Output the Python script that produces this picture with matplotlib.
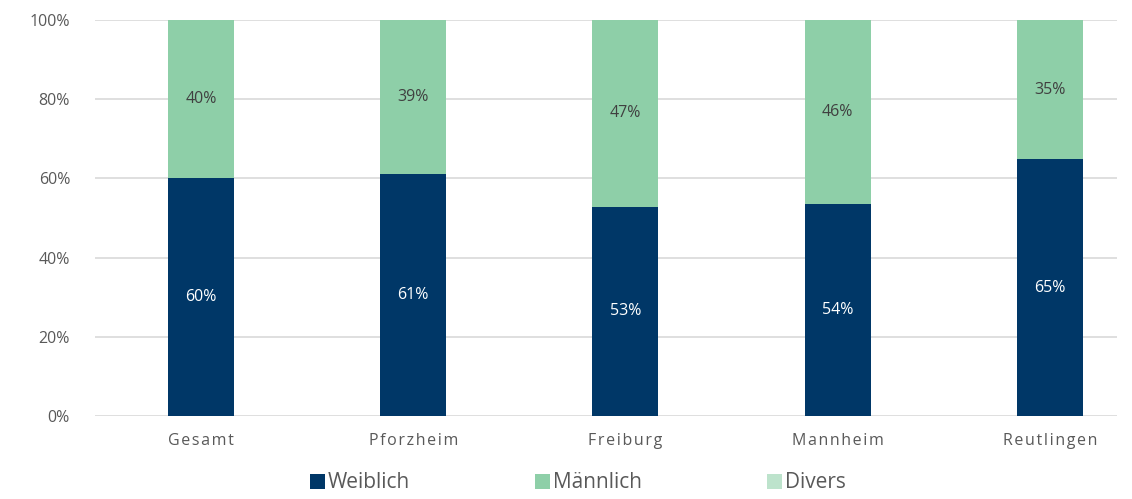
import numpy as np
import matplotlib.pyplot as plt

plt.rcParams['font.family'] = ['Open Sans', 'DejaVu Sans']

# data (percent)
standorte = ["Gesamt", "Pforzheim", "Freiburg", "Mannheim", "Reutlingen"]
weiblich = [60.2, 61.0, 52.8, 53.6, 64.8]
maennlich = [39.8, 39.0, 47.2, 46.4, 35.2]
divers = [0.0, 0.0, 0.0, 0.0, 0.0]

c_w = "#003767"
c_m = "#8ecfa8"
c_d = "#bde3cc"

fig = plt.figure(figsize=(11.32, 4.99), dpi=100)
ax = fig.add_axes([95 / 1132, 1 - 416 / 499, (1117 - 95) / 1132, 396 / 499])

x = np.arange(len(standorte))
w = 0.311
b1 = ax.bar(x, weiblich, w, color=c_w, label="Weiblich", zorder=3)
b2 = ax.bar(x, maennlich, w, bottom=weiblich, color=c_m, label="Männlich", zorder=3)
bottom3 = np.array(weiblich) + np.array(maennlich)
b3 = ax.bar(x, divers, w, bottom=bottom3, color=c_d, label="Divers", zorder=3)

# value labels in the middle of each segment
for i in range(len(standorte)):
    ax.text(x[i], weiblich[i] / 2, f"{weiblich[i]:.0f}%", ha="center", va="center",
            color="white", fontsize=11.5, zorder=4)
    ax.text(x[i], weiblich[i] + maennlich[i] / 2, f"{maennlich[i]:.0f}%", ha="center",
            va="center", color="#404040", fontsize=11.5, zorder=4)

ax.set_ylim(0, 100)
ax.set_xlim(-0.4994, 4.316)
ax.set_yticks(np.arange(0, 101, 20))
ax.set_yticklabels([f"{v}%" for v in range(0, 101, 20)])
ax.set_xticks(x)
# category labels are letter-spaced in the original
ax.set_xticklabels(["\u200a".join(s) for s in standorte])
ax.tick_params(axis="both", length=0, colors="#595959", labelsize=11.5)
ax.tick_params(axis="x", pad=12)
ax.tick_params(axis="y", pad=18)
ax.grid(axis="y", color="#d9d9d9", linewidth=1.2, zorder=0)
for s in ax.spines.values():
    s.set_visible(False)

fig.legend(handles=[b1, b2, b3], loc="center", bbox_to_anchor=(578 / 1132, 1 - 483 / 499),
           ncol=3, frameon=False, fontsize=15, handlelength=0.7, handleheight=0.7,
           handletextpad=0.15, columnspacing=6.0, labelcolor="#595959")

fig.savefig("out.png", dpi=100)
